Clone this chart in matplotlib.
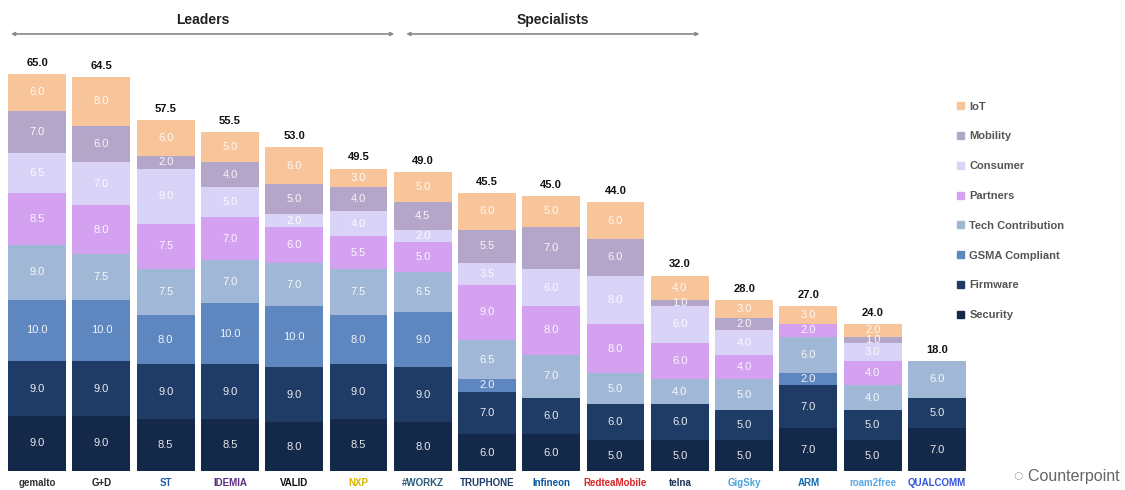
import numpy as np
import matplotlib
matplotlib.use("Agg")
import matplotlib.pyplot as plt
from matplotlib.patches import Patch

plt.rcParams['font.family'] = ['Liberation Sans', 'DejaVu Sans']

# Vendors, left to right
companies = ["gemalto", "G+D", "ST", "IDEMIA", "VALID", "NXP", "#WORKZ",
             "TRUPHONE", "Infineon", "RedteaMobile", "telna", "GigSky",
             "ARM", "roam2free", "QUALCOMM"]

# Scores per category (stacked bottom -> top)
security    = [9.0, 9.0, 8.5, 8.5, 8.0, 8.5, 8.0, 6.0, 6.0, 5.0, 5.0, 5.0, 7.0, 5.0, 7.0]
firmware    = [9.0, 9.0, 9.0, 9.0, 9.0, 9.0, 9.0, 7.0, 6.0, 6.0, 6.0, 5.0, 7.0, 5.0, 5.0]
gsma        = [10.0, 10.0, 8.0, 10.0, 10.0, 8.0, 9.0, 2.0, 0, 0, 0, 0, 2.0, 0, 0]
tech        = [9.0, 7.5, 7.5, 7.0, 7.0, 7.5, 6.5, 6.5, 7.0, 5.0, 4.0, 5.0, 6.0, 4.0, 6.0]
partners    = [8.5, 8.0, 7.5, 7.0, 6.0, 5.5, 5.0, 9.0, 8.0, 8.0, 6.0, 4.0, 2.0, 4.0, 0]
consumer    = [6.5, 7.0, 9.0, 5.0, 2.0, 4.0, 2.0, 3.5, 6.0, 8.0, 6.0, 4.0, 0, 3.0, 0]
mobility    = [7.0, 6.0, 2.0, 4.0, 5.0, 4.0, 4.5, 5.5, 7.0, 6.0, 1.0, 2.0, 0, 1.0, 0]
iot         = [6.0, 8.0, 6.0, 5.0, 6.0, 3.0, 5.0, 6.0, 5.0, 6.0, 4.0, 3.0, 3.0, 2.0, 0]

series = [("Security", security), ("Firmware", firmware), ("GSMA Compliant", gsma),
          ("Tech Contribution", tech), ("Partners", partners), ("Consumer", consumer),
          ("Mobility", mobility), ("IoT", iot)]
colors = ["#14284a", "#1f3c66", "#5e87c0", "#a0b8d6", "#d3a1f0", "#d8d3f7",
          "#b3a6c9", "#f8c49a"]
name_colors = ["#333333", "#222222", "#1f5fa8", "#5a2d82", "#111111", "#d9b300",
               "#2a5c7a", "#1e3d6b", "#0a56a0", "#d62828", "#1e2f5a", "#4ba3d9",
               "#0d6aad", "#5aa9e6", "#3253dc"]

fig = plt.figure(figsize=(11.25, 4.9), dpi=100)
ax = fig.add_axes([0.0044, 0.0388, 0.857, 0.8727])

x = np.arange(len(companies))
bottom = np.zeros(len(companies))
for (name, vals), c in zip(series, colors):
    vals = np.array(vals, dtype=float)
    ax.bar(x, vals, bottom=bottom, width=0.9, color=c, label=name, linewidth=0)
    for xi, b, v in zip(x, bottom, vals):
        if v > 0:
            ax.text(xi, b + v / 2, f"{v:.1f}", ha="center", va="center",
                    color="white", fontsize=8, alpha=0.9)
    bottom += vals

for xi, t in zip(x, bottom):
    ax.text(xi, t + 1.0, f"{t:.1f}", ha="center", va="bottom",
            fontsize=8, fontweight="bold", color="#111111")

ax.set_xlim(-0.5, 14.5)
ax.set_ylim(0, 70)
ax.set_yticks([])
ax.set_xticks(x)
ax.set_xticklabels(companies, fontsize=7, fontweight="bold")
for lbl, c in zip(ax.get_xticklabels(), name_colors):
    lbl.set_color(c)
ax.tick_params(axis="x", length=0, pad=5)
for s in ax.spines.values():
    s.set_visible(False)

# Group headers with double arrows
tr = ax.get_xaxis_transform()
for lab, x0, x1 in [("Leaders", -0.45, 5.6), ("Specialists", 5.7, 10.35)]:
    ax.annotate("", xy=(x1, 1.022), xytext=(x0, 1.022), xycoords=tr, textcoords=tr,
                arrowprops=dict(arrowstyle="<->", color="#888888", lw=1.2,
                                mutation_scale=5), annotation_clip=False)
    ax.text((x0 + x1) / 2, 1.055, lab, transform=tr, ha="center", va="center",
            fontsize=10, fontweight="bold", color="#222222")

handles = [Patch(color=c, label=n) for (n, _), c in zip(series, colors)][::-1]
fig.legend(handles=handles, loc="upper left", bbox_to_anchor=(0.842, 0.813),
           frameon=False, handlelength=0.6, handleheight=0.6,
           handletextpad=0.5, labelspacing=1.78, prop={"weight": "bold", "size": 8},
           labelcolor="#555555")

fig.text(0.995, 0.012, "\u25cc Counterpoint", fontsize=11.5, color="#666666",
         ha="right", va="bottom")

fig.savefig("out.png", dpi=100)
